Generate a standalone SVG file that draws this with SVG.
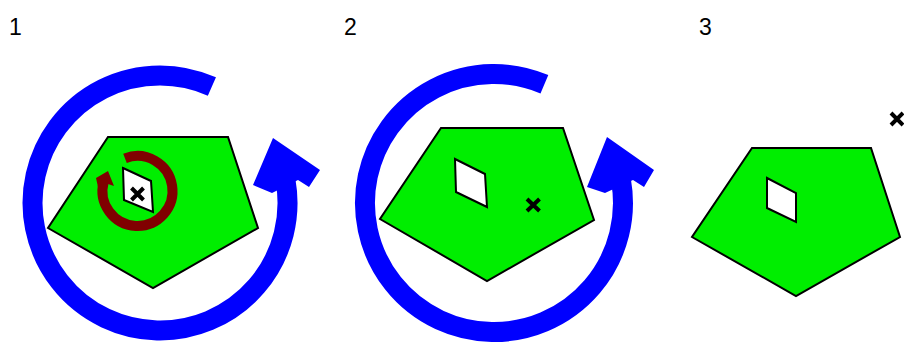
<svg xmlns="http://www.w3.org/2000/svg" width="904" height="343" viewBox="0 0 904 343">
<style>
.lbl{font-family:"Liberation Sans",Arial,sans-serif;font-size:23px;fill:#000}
.poly{fill:#00ee00;stroke:#000;stroke-width:2;stroke-linejoin:miter}
.hole{fill:#fff;stroke:#000;stroke-width:2}
.ring{fill:none;stroke:#0000ff;stroke-width:20}
.head{fill:#0000ff}
.rring{fill:none;stroke:#800000;stroke-width:10}
.rhead{fill:#800000}
.x{stroke:#000;stroke-width:4;stroke-linecap:butt}
</style>
<rect width="904" height="343" fill="#fff"/>
<text class="lbl" x="9" y="35">1</text>
<text class="lbl" x="344" y="35">2</text>
<text class="lbl" x="699" y="35">3</text>

<g id="panel1">
  <g id="shape1">
    <polygon class="poly" points="108,137 228,137 258,228 153,288 48,228"/>
    <polygon class="hole" points="123,168 151,181 153,212 124,200"/>
  </g>
  <g id="point1">
    <path class="x" d="M131.5,188 L143.5,200 M143.5,188 L131.5,200"/>
  </g>
</g>
<g id="panel2">
  <g id="shape2">
    <polygon class="poly" points="441,128 563,128 594,220 487,281 380,219"/>
    <polygon class="hole" points="455,159 485,174 487,207 456,192"/>
  </g>
  <g id="point2">
    <path class="x" d="M527,199 L539.5,211 M539.5,199 L527,211"/>
  </g>
</g>
<g id="panel3">
  <g id="shape3">
    <polygon class="poly" points="752,148 871,148 900,237 796,296 692,237"/>
    <polygon class="hole" points="767,178 796,193 796,222 767,208"/>
  </g>
  <g id="point3">
    <path class="x" d="M891,113 L903,125 M903,113 L891,125"/>
  </g>
</g>

<g id="connectors">
  <g id="rot1">
    <path class="ring" d="M211.9,86.5 A127.5,127.5 0 1 0 285.6,180.9"/>
    <polygon class="head" points="273,138 320,170 309,187 298,180 272,193 253,185"/>
  </g>
  <g id="rot1small">
    <path class="rring" d="M125,158.3 A35,35 0 1 1 103.7,181.9"/>
    <polygon class="rhead" points="96,178 108,171 114,186 108,184 100,188 98,187"/>
  </g>
  <g id="rot2">
    <path class="ring" d="M544.4,84.3 A129,129 0 1 0 621,180.6"/>
    <polygon class="head" points="607,137 654,170 644,187 633,180 605,193 587,187"/>
  </g>
</g>
</svg>
